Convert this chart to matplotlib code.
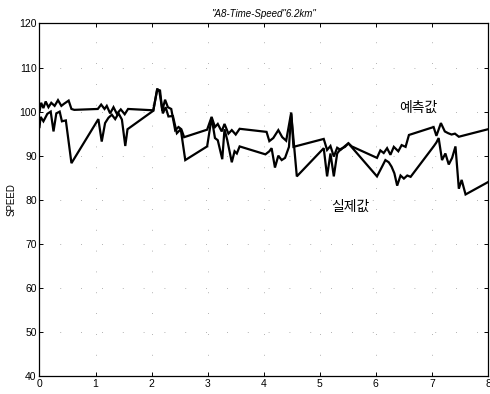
import matplotlib
matplotlib.use("Agg")
import matplotlib.pyplot as plt

plt.rcParams['font.family'] = ['Liberation Sans', 'Noto Sans CJK KR', 'DejaVu Sans']

# predicted speed (예측값)
t_pred = [0.00, 0.03, 0.07, 0.11, 0.16, 0.21, 0.27, 0.33, 0.39, 0.44, 0.52, 0.57,
          0.62, 1.04, 1.10, 1.16, 1.20, 1.26, 1.32, 1.38, 1.45, 1.52, 1.58, 2.03,
          2.10, 2.15, 2.19, 2.24, 2.29, 2.35, 2.42, 2.48, 2.53, 2.58, 2.99, 3.07,
          3.13, 3.18, 3.25, 3.30, 3.37, 3.43, 3.50, 3.57, 4.05, 4.10, 4.17, 4.26,
          4.33, 4.40, 4.49, 4.53, 5.07, 5.13, 5.19, 5.25, 5.31, 5.37, 5.45, 5.51,
          5.57, 6.02, 6.08, 6.14, 6.20, 6.26, 6.32, 6.40, 6.46, 6.53, 6.59, 7.03,
          7.08, 7.16, 7.23, 7.29, 7.35, 7.41, 7.48, 8.00]
v_pred = [100.0, 102.0, 100.8, 102.3, 101.0, 102.0, 101.3, 102.6, 101.3, 101.8, 102.5, 100.6,
          100.4, 100.6, 101.6, 100.6, 101.3, 99.6, 101.0, 99.5, 100.5, 99.4, 100.6, 100.3,
          105.0, 104.8, 100.2, 102.7, 101.0, 100.6, 95.8, 96.5, 96.0, 94.2, 95.9, 98.8,
          96.5, 97.2, 95.5, 97.2, 95.0, 95.8, 94.8, 96.1, 95.4, 93.3, 94.0, 95.8,
          94.2, 93.4, 99.8, 92.0, 93.8, 91.3, 92.2, 89.8, 91.8, 91.3, 92.2, 92.8,
          92.1, 89.5, 91.2, 90.6, 91.7, 90.2, 92.0, 91.0, 92.4, 92.0, 94.7, 96.5,
          94.5, 97.4, 95.5, 95.1, 94.8, 95.0, 94.3, 96.0]

# measured speed (실제값)
t_real = [0.00, 0.02, 0.07, 0.14, 0.20, 0.25, 0.30, 0.36, 0.40, 0.47, 0.57, 1.05,
          1.11, 1.17, 1.23, 1.29, 1.35, 1.41, 1.47, 1.53, 1.57, 2.03, 2.10, 2.14,
          2.20, 2.25, 2.30, 2.38, 2.45, 2.52, 2.60, 2.99, 3.07, 3.13, 3.18, 3.26,
          3.30, 3.35, 3.43, 3.48, 3.52, 3.57, 4.03, 4.10, 4.14, 4.20, 4.26, 4.32,
          4.38, 4.45, 4.49, 4.59, 5.07, 5.13, 5.19, 5.25, 5.31, 5.37, 5.45, 5.51,
          6.02, 6.11, 6.17, 6.23, 6.28, 6.33, 6.38, 6.44, 6.50, 6.56, 6.62, 7.03,
          7.08, 7.12, 7.18, 7.24, 7.30, 7.36, 7.42, 7.48, 7.53, 7.60, 8.00]
v_real = [96.5, 98.8, 97.8, 99.5, 100.0, 95.5, 99.6, 100.0, 97.8, 98.0, 88.3, 98.3,
          93.2, 97.4, 98.6, 99.3, 98.3, 99.6, 98.2, 92.2, 96.0, 100.2, 105.2, 104.5,
          99.6, 101.0, 98.9, 99.0, 95.1, 96.0, 89.0, 92.1, 98.6, 94.0, 93.5, 89.2,
          96.0, 93.5, 88.5, 91.0, 90.5, 92.1, 90.3, 91.0, 91.7, 87.3, 90.0, 89.0,
          89.5, 92.0, 99.5, 85.3, 91.7, 85.3, 90.5, 85.3, 90.5, 91.5, 92.0, 92.8,
          85.3, 87.5, 89.0, 88.5, 87.5, 86.0, 83.2, 85.5, 84.8, 85.5, 85.2, 92.1,
          93.0, 94.0, 89.0, 90.5, 88.0, 89.5, 92.1, 82.5, 84.5, 81.2, 84.0]

x_ticks = [0, 1, 2, 3, 4, 5, 6, 7, 8]
y_ticks = [40, 50, 60, 70, 80, 90, 100, 110, 120]

fig = plt.figure(figsize=(4.90, 3.94), dpi=100)
ax = fig.add_axes([0.0806, 0.0457, 0.9153, 0.8947])

ax.plot(t_pred, v_pred, color='black', lw=1.6, solid_joinstyle='miter')
ax.plot(t_real, v_real, color='black', lw=1.6, solid_joinstyle='miter')

ax.set_xlim(0, 8)
ax.set_ylim(40, 120)
ax.set_xticks(x_ticks)
ax.set_yticks(y_ticks)
ax.tick_params(direction='in', length=3, width=0.7, labelsize=7.5,
               top=True, right=True, pad=2)
ax.grid(True, color='#999999', linestyle=(0, (1, 24)), lw=0.6)
for s in ax.spines.values():
    s.set_linewidth(0.9)

ax.set_title('"A8-Time-Speed"6.2km"', fontsize=7, style='italic', pad=5)
ax.set_ylabel('SPEED', fontsize=7, labelpad=2)

ax.text(6.76, 100.8, '예측값', family=['Noto Sans CJK KR', 'DejaVu Sans'],
        fontsize=10, ha='center', va='center')
ax.text(5.54, 78.3, '실제값', family=['Noto Sans CJK KR', 'DejaVu Sans'],
        fontsize=10, ha='center', va='center')

fig.savefig('out.png', dpi=100)
